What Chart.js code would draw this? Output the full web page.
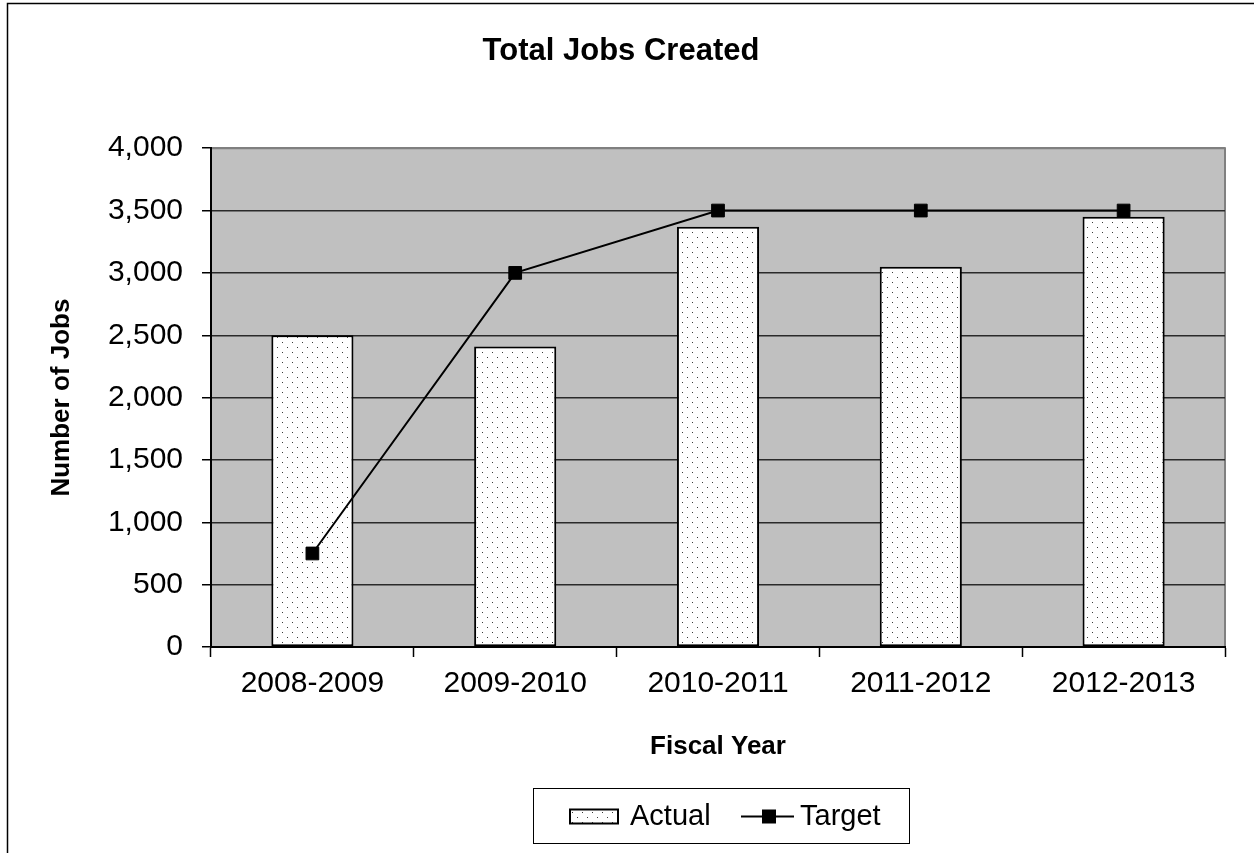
<!DOCTYPE html>
<html>
<head>
  <script src="https://cdn.jsdelivr.net/npm/chart.js"></script>
  <style>
    body { margin: 0; background: #fff; }
  </style>
</head>
<body>
  <canvas id="jobsChart" width="1254" height="853"></canvas>

  <script>
    // Fiscal years and job counts
    var years = ['2008-2009', '2009-2010', '2010-2011', '2011-2012', '2012-2013'];
    var actualJobs = [2500, 2410, 3370, 3050, 3450];
    var targetJobs = [750, 3000, 3500, 3500, 3500];
    var yTicks = [0, 500, 1000, 1500, 2000, 2500, 3000, 3500, 4000];

    var FONT = '"Liberation Sans", Arial, sans-serif';
    Chart.defaults.font.family = FONT;
    Chart.defaults.color = '#000';

    var canvas = document.getElementById('jobsChart');
    var ctx = canvas.getContext('2d');

    // white tile with a sparse staggered dot fill, like the old spreadsheet "dotted" pattern
    function dotPattern() {
      var tile = document.createElement('canvas');
      tile.width = 10;
      tile.height = 10;
      var g = tile.getContext('2d');
      g.fillStyle = '#fff';
      g.fillRect(0, 0, 10, 10);
      g.fillStyle = '#3a3a3a';
      g.fillRect(2, 2, 1, 1);
      g.fillRect(7, 7, 1, 1);
      return ctx.createPattern(tile, 'repeat');
    }
    var dots = dotPattern();

    // page frame + grey plot background
    var backdrop = {
      id: 'backdrop',
      beforeDraw: function (chart) {
        var c = chart.ctx, a = chart.chartArea;
        c.save();
        c.fillStyle = '#fff';
        c.fillRect(0, 0, chart.width, chart.height);
        c.strokeStyle = '#000';
        c.lineWidth = 1.5;
        c.beginPath();
        c.moveTo(7.5, chart.height);
        c.lineTo(7.5, 3.5);
        c.lineTo(chart.width, 3.5);
        c.stroke();
        c.fillStyle = '#c0c0c0';
        c.fillRect(a.left, a.top, a.right - a.left, a.bottom - a.top);
        c.strokeStyle = '#808080';
        c.lineWidth = 2;
        c.beginPath();
        c.moveTo(a.left, a.top);
        c.lineTo(a.right, a.top);
        c.lineTo(a.right, a.bottom);
        c.stroke();
        c.restore();
      }
    };

    // boxed legend under the axis title
    var boxedLegend = {
      id: 'boxedLegend',
      afterDraw: function (chart) {
        var c = chart.ctx;
        var bx = 533, by = 788, bw = 376, bh = 55;
        var cy = by + bh / 2 + 1;
        c.save();
        c.strokeStyle = '#000';
        c.lineWidth = 1;
        c.strokeRect(bx + 0.5, by + 0.5, bw, bh);

        var bars = chart.data.datasets[1];
        var line = chart.data.datasets[0];

        c.fillStyle = bars.backgroundColor;
        c.fillRect(570, cy - 7, 48, 14);
        c.lineWidth = 2;
        c.strokeRect(570, cy - 7, 48, 14);

        c.lineWidth = 2;
        c.beginPath();
        c.moveTo(741, cy);
        c.lineTo(794, cy);
        c.stroke();
        c.fillStyle = '#000';
        c.fillRect(762, cy - 7, 14, 14);

        c.font = '29px ' + FONT;
        c.textBaseline = 'middle';
        c.textAlign = 'left';
        c.fillText(bars.label, 630, cy);
        c.fillText(line.label, 800, cy);
        c.restore();
      }
    };

    var jobsChart = new Chart(ctx, {
      type: 'bar',
      data: {
        labels: years,
        datasets: [{
          type: 'line',
          label: 'Target',
          data: targetJobs,
          borderColor: '#000',
          borderWidth: 2,
          backgroundColor: '#000',
          pointStyle: 'rect',
          pointRadius: 9,
          pointBorderWidth: 1,
          tension: 0,
          order: 1
        }, {
          label: 'Actual',
          data: actualJobs,
          backgroundColor: dots,
          borderColor: '#000',
          borderWidth: 2,
          borderSkipped: false,
          categoryPercentage: 1,
          barPercentage: 0.405,
          order: 2
        }]
      },
      options: {
        responsive: false,
        animation: false,
        layout: { padding: { left: 17, right: 29, top: 0, bottom: 86 } },
        plugins: {
          legend: { display: false },
          tooltip: { enabled: false },
          title: {
            display: true,
            text: 'Total Jobs Created',
            font: { size: 31, weight: 'bold' },
            padding: { top: 33, bottom: 78 }
          }
        },
        scales: {
          x: {
            grid: {
              offset: true,
              drawOnChartArea: false,
              tickLength: 10,
              tickColor: '#000',
              tickWidth: 1.5
            },
            border: { color: '#000', width: 2 },
            ticks: { font: { size: 30 }, padding: 9, maxRotation: 0 },
            title: {
              display: true,
              text: 'Fiscal Year',
              font: { size: 26, weight: 'bold' },
              padding: { top: 0, bottom: 5 }
            },
            afterFit: function (scale) { scale.height = 120; }
          },
          y: {
            min: 0,
            max: 4000,
            afterBuildTicks: function (scale) {
              scale.ticks = yTicks.map(function (v) { return { value: v }; });
            },
            grid: {
              color: function (c) { return c.tick && c.tick.value === 4000 ? '#808080' : '#2a2a2a'; },
              lineWidth: 1.5,
              tickLength: 9,
              tickColor: '#000'
            },
            border: { color: '#000', width: 2 },
            ticks: {
              font: { size: 30 },
              padding: 19,
              callback: function (v) { return v.toLocaleString('en-US'); }
            },
            title: {
              display: true,
              text: 'Number of Jobs',
              font: { size: 26, weight: 'bold' },
              padding: { top: 29, bottom: 0 }
            },
            afterFit: function (scale) { scale.width = 194; }
          }
        }
      },
      plugins: [backdrop, boxedLegend]
    });
  </script>
</body>
</html>
